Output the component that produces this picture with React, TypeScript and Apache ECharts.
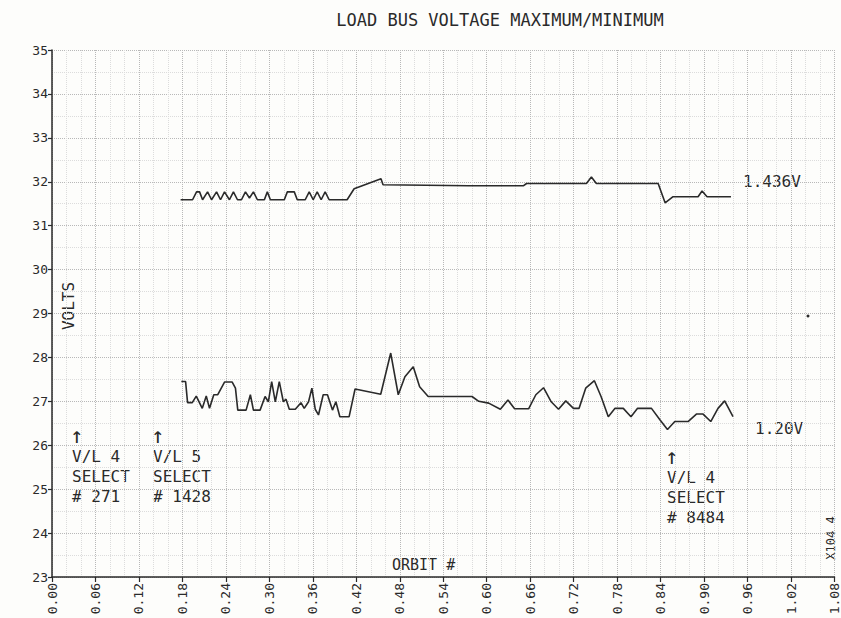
import React, { useEffect, useRef } from "react";
import * as echarts from "echarts";

// Orbit number (x) and voltage (y)
const orbitsMax = [0.1775, 0.194, 0.1995, 0.2037, 0.2078, 0.2147, 0.2202, 0.2271, 0.2326, 0.2381, 0.2449, 0.2504, 0.256, 0.2615, 0.267, 0.2725, 0.278, 0.2835, 0.2931, 0.2972, 0.3014, 0.3206, 0.3248, 0.3344, 0.3385, 0.3495, 0.355, 0.3605, 0.366, 0.3715, 0.377, 0.3825, 0.3922, 0.4073, 0.417, 0.4541, 0.4569, 0.5752, 0.6509, 0.655, 0.7376, 0.7445, 0.7513, 0.8366, 0.8462, 0.8572, 0.8917, 0.8972, 0.9041, 0.9371];
const voltsMax = [31.59, 31.59, 31.77, 31.77, 31.59, 31.77, 31.59, 31.77, 31.59, 31.77, 31.59, 31.77, 31.59, 31.59, 31.77, 31.63, 31.77, 31.59, 31.59, 31.77, 31.59, 31.59, 31.77, 31.77, 31.59, 31.59, 31.77, 31.59, 31.77, 31.59, 31.77, 31.59, 31.59, 31.59, 31.84, 32.07, 31.93, 31.91, 31.91, 31.96, 31.96, 32.11, 31.96, 31.96, 31.52, 31.66, 31.66, 31.79, 31.66, 31.66];

const orbitsMin = [0.1785, 0.1844, 0.1871, 0.1936, 0.1991, 0.2074, 0.2129, 0.2174, 0.2233, 0.2288, 0.2381, 0.2487, 0.2532, 0.2564, 0.2679, 0.2738, 0.278, 0.2872, 0.2941, 0.2986, 0.3032, 0.3082, 0.3137, 0.3193, 0.323, 0.3275, 0.3358, 0.3436, 0.3481, 0.3541, 0.3587, 0.3633, 0.3678, 0.3743, 0.3802, 0.3871, 0.3918, 0.3973, 0.4101, 0.4183, 0.4537, 0.4675, 0.4779, 0.4871, 0.4986, 0.5074, 0.5192, 0.5797, 0.589, 0.6027, 0.6188, 0.6293, 0.6385, 0.6578, 0.6678, 0.6784, 0.689, 0.6991, 0.7091, 0.7197, 0.7275, 0.7366, 0.7486, 0.7578, 0.7678, 0.7771, 0.7885, 0.7991, 0.8082, 0.8274, 0.839, 0.8495, 0.8596, 0.8779, 0.8894, 0.8986, 0.9092, 0.9192, 0.9284, 0.9399];
const voltsMin = [27.45, 27.45, 26.97, 26.97, 27.12, 26.84, 27.12, 26.84, 27.15, 27.15, 27.44, 27.44, 27.3, 26.8, 26.8, 27.15, 26.8, 26.8, 27.11, 26.99, 27.45, 26.99, 27.45, 26.99, 27.05, 26.82, 26.82, 26.97, 26.84, 26.99, 27.3, 26.82, 26.69, 27.15, 27.15, 26.8, 26.99, 26.65, 26.65, 27.28, 27.16, 28.1, 27.15, 27.56, 27.79, 27.33, 27.11, 27.11, 27.0, 26.96, 26.82, 27.03, 26.83, 26.83, 27.15, 27.31, 26.99, 26.82, 27.01, 26.84, 26.84, 27.3, 27.47, 27.11, 26.65, 26.84, 26.84, 26.65, 26.84, 26.84, 26.58, 26.36, 26.54, 26.54, 26.71, 26.71, 26.54, 26.84, 27.01, 26.65];

const titleText = "LOAD BUS VOLTAGE MAXIMUM/MINIMUM";
const yAxisTitle = "VOLTS";
const xAxisTitle = "ORBIT #";
const maxLabel = "1.436V";
const minLabel = "1.20V";
const cornerLabel = "X104 4";
const annotations = [
  ["V/L 4", "SELECT", "# 271"],
  ["V/L 5", "SELECT", "# 1428"],
  ["V/L 4", "SELECT", "# 8484"],
];

const FONT = "DejaVu Sans Mono";
const INK = "#2a2a2a";

function annotationGroup(lines: string[], left: number, top: number) {
  const arrow = {
    type: "text",
    x: left - 2,
    y: top - 1,
    style: {
      text: "\u2191",
      font: `22px "${FONT}"`,
      fill: INK,
      textVerticalAlign: "middle",
    },
  };
  const rows = lines.map((t, i) => ({
    type: "text",
    x: left,
    y: top + (i + 1) * 20,
    style: {
      text: t,
      font: `16px "${FONT}"`,
      fill: INK,
      textVerticalAlign: "middle",
    },
  }));
  return [arrow, ...rows];
}

export default function App() {
  const ref = useRef<HTMLDivElement>(null);
  useEffect(() => {
    if (!ref.current) return;
    const chart = echarts.init(ref.current, null, { renderer: "svg" });
    const gridLine = { show: true, lineStyle: { type: "dotted", color: "#b8b8b8", width: 1 } };
    const minorLine = { show: true, lineStyle: { type: "dotted", color: "#dcdcdc", width: 1 } };
    chart.setOption({
      animation: false,
      backgroundColor: "#fdfdfb",
      grid: { left: 52, right: 5, top: 50, bottom: 41 },
      xAxis: {
        type: "value",
        min: 0,
        max: 1.08,
        interval: 0.06,
        axisLine: { show: true, onZero: false, lineStyle: { color: INK, width: 1.5 } },
        axisTick: { show: true, length: 5, lineStyle: { color: INK, width: 1.2 } },
        axisLabel: {
          rotate: 90,
          margin: 6,
          color: INK,
          fontFamily: FONT,
          fontSize: 13,
          formatter: (v: number) => v.toFixed(2),
        },
        splitLine: gridLine,
        minorTick: { show: false, splitNumber: 3 },
        minorSplitLine: minorLine,
      },
      yAxis: {
        type: "value",
        min: 23,
        max: 35,
        interval: 1,
        axisLine: { show: true, onZero: false, lineStyle: { color: INK, width: 1.5 } },
        axisTick: { show: true, length: 4, lineStyle: { color: INK, width: 1.2 } },
        axisLabel: { color: INK, fontFamily: FONT, fontSize: 13, margin: 4 },
        splitLine: gridLine,
        minorTick: { show: false, splitNumber: 2 },
        minorSplitLine: minorLine,
      },
      series: [
        {
          name: "Maximum",
          type: "line",
          showSymbol: false,
          data: orbitsMax.map((x, i) => [x, voltsMax[i]]),
          lineStyle: { color: INK, width: 1.6 },
          z: 5,
        },
        {
          name: "Minimum",
          type: "line",
          showSymbol: false,
          data: orbitsMin.map((x, i) => [x, voltsMin[i]]),
          lineStyle: { color: INK, width: 1.6 },
          z: 5,
        },
      ],
      graphic: [
        {
          type: "text",
          x: 500,
          y: 20,
          style: { text: titleText, font: `17px "${FONT}"`, fill: INK, textAlign: "center", textVerticalAlign: "middle" },
        },
        {
          type: "text",
          x: 68,
          y: 306,
          rotation: Math.PI / 2,
          style: { text: yAxisTitle, font: `16px "${FONT}"`, fill: INK, textAlign: "center", textVerticalAlign: "middle" },
        },
        {
          type: "text",
          x: 392,
          y: 565,
          style: { text: xAxisTitle, font: `15px "${FONT}"`, fill: INK, textVerticalAlign: "middle" },
        },
        {
          type: "text",
          x: 743,
          y: 181,
          style: { text: maxLabel, font: `16px "${FONT}"`, fill: INK, textVerticalAlign: "middle" },
        },
        {
          type: "text",
          x: 755,
          y: 428,
          style: { text: minLabel, font: `16px "${FONT}"`, fill: INK, textVerticalAlign: "middle" },
        },
        ...annotationGroup(annotations[0], 72, 436),
        ...annotationGroup(annotations[1], 153, 436),
        ...annotationGroup(annotations[2], 667, 457),
        {
          type: "text",
          x: 831,
          y: 538,
          rotation: Math.PI / 2,
          style: { text: cornerLabel, font: `12px "${FONT}"`, fill: INK, textAlign: "center", textVerticalAlign: "middle" },
        },
        {
          type: "circle",
          shape: { cx: 808, cy: 316, r: 1.5 },
          style: { fill: INK },
        },
      ],
    });
    return () => chart.dispose();
  }, []);
  return <div ref={ref} style={{ position: "fixed", left: 0, top: 0, width: 841, height: 618 }} />;
}
